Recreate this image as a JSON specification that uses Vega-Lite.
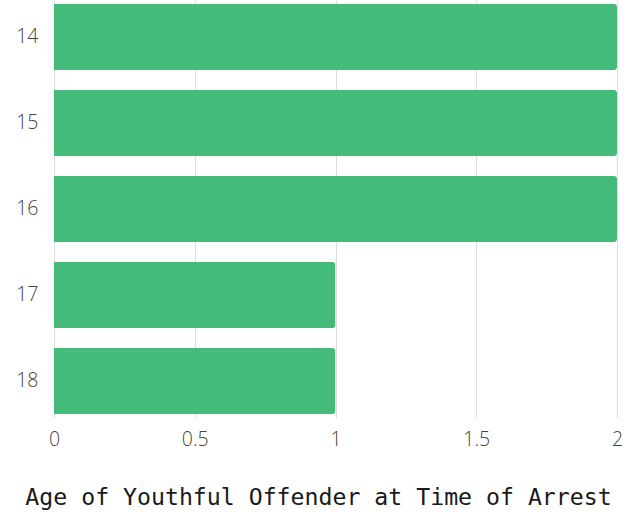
{
  "$schema": "https://vega.github.io/schema/vega-lite/v6.json",
  "width": 563,
  "height": 418,
  "autosize": "none",
  "padding": {"left": 54, "top": 0, "right": 23, "bottom": 96},
  "background": "white",
  "config": {"view": {"stroke": null}},
  "data": {"values": [
    {"age": "14", "count": 2},
    {"age": "15", "count": 2},
    {"age": "16", "count": 2},
    {"age": "17", "count": 1},
    {"age": "18", "count": 1}
  ]},
  "mark": {"type": "bar", "color": "#44bb78", "cornerRadiusEnd": 3},
  "encoding": {
    "y": {
      "field": "age", "type": "ordinal",
      "scale": {"paddingInner": 0.2326, "paddingOuter": 0.0465},
      "axis": {"title": null, "domain": false, "ticks": false, "labelPadding": 16, "labelFont": "Open Sans", "labelFontWeight": 300, "labelFontSize": 19.5, "labelColor": "#444"}
    },
    "x": {
      "field": "count", "type": "quantitative",
      "scale": {"domain": [0, 2], "nice": false},
      "axis": {"values": [0, 0.5, 1, 1.5, 2], "format": "~g", "title": "Age of Youthful Offender at Time of Arrest", "domain": false, "ticks": false, "grid": true, "gridColor": "#dddddd", "labelPadding": 12, "labelFont": "Open Sans", "labelFontWeight": 300, "labelFontSize": 19.5, "labelColor": "#444", "labelFlush": false, "titleFont": "DejaVu Sans Mono", "titleFontWeight": "normal", "titleFontSize": 23.2, "titleColor": "#1a1a1a", "titlePadding": 38, "titleX": 264, "titleAlign": "center"}
    }
  }
}
